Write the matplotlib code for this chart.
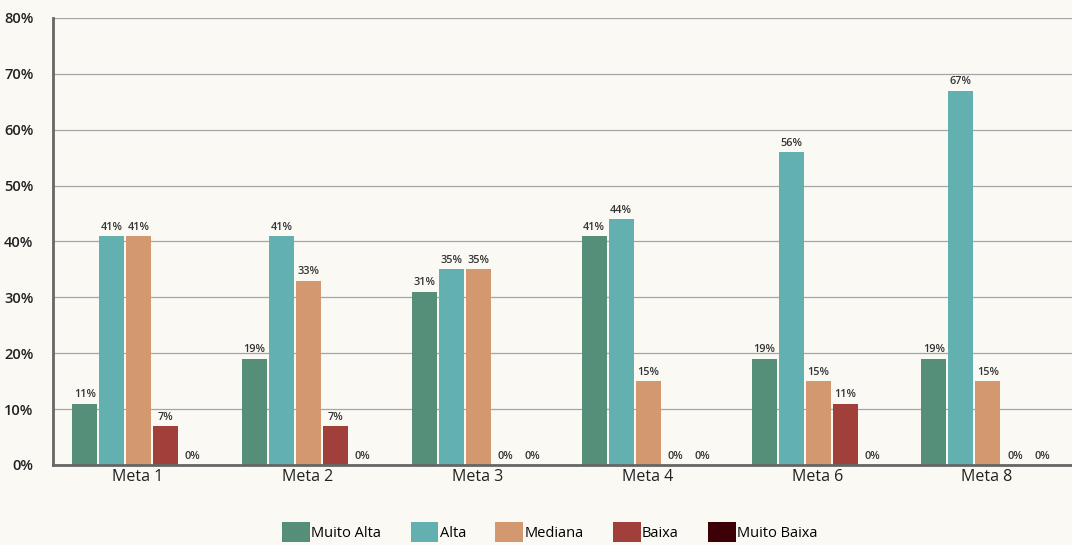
import numpy as np
import matplotlib.pyplot as plt
from matplotlib.ticker import PercentFormatter

metas = ["Meta 1", "Meta 2", "Meta 3", "Meta 4", "Meta 6", "Meta 8"]
series = ["Muito Alta", "Alta", "Mediana", "Baixa", "Muito Baixa"]
muito_alta = [11, 19, 31, 41, 19, 19]
alta = [41, 41, 35, 44, 56, 67]
mediana = [41, 33, 35, 15, 15, 15]
baixa = [7, 7, 0, 0, 11, 0]
muito_baixa = [0, 0, 0, 0, 0, 0]
colors = ["#568F79", "#62B1B0", "#D49870", "#A1403B", "#3D0006"]

plt.rcParams["font.family"] = ["Open Sans", "DejaVu Sans"]
bg = "#FAF9F4"

fig = plt.figure(figsize=(10.72, 5.45), dpi=100, facecolor=bg)
ax = fig.add_axes([0.0494, 0.1468, 0.9506, 0.8202], facecolor=bg)

x = np.arange(len(metas))
step = 0.159
width = 0.147
for k, (name, vals) in enumerate(zip(series, [muito_alta, alta, mediana, baixa, muito_baixa])):
    pos = x + (k - 2) * step + 0.005
    ax.bar(pos, vals, width=width, color=colors[k], label=name, zorder=3)
    for p, v in zip(pos, vals):
        ax.text(p, v + 0.6, f"{v}%", ha="center", va="bottom", fontsize=7.8,
                fontweight="semibold", color="#333333", zorder=4)

ax.set_xlim(-0.5, 5.5)
ax.set_ylim(0, 80)
ax.set_yticks(range(0, 81, 10))
ax.yaxis.set_major_formatter(PercentFormatter(decimals=0))
ax.set_xticks(x)
ax.set_xticklabels(metas, fontsize=11.5, color="#222222", fontweight="medium")
ax.tick_params(axis="y", labelsize=10.5, colors="#222222", length=0, pad=14)
ax.tick_params(axis="x", length=0, pad=3)
for lab in ax.get_yticklabels():
    lab.set_fontweight("semibold")

ax.grid(axis="y", color="#A5A5A5", linewidth=0.9, zorder=0)
for s in ["top", "right"]:
    ax.spines[s].set_visible(False)
ax.spines["left"].set_color("#666666")
ax.spines["left"].set_linewidth(2)
ax.spines["left"].set_zorder(5)
ax.spines["bottom"].set_color("#666666")
ax.spines["bottom"].set_linewidth(2)
ax.spines["bottom"].set_zorder(5)

fig.legend(loc="lower center", bbox_to_anchor=(0.513, -0.018), ncol=5,
           frameon=False, fontsize=10.5, handlelength=1.9, handleheight=1.7,
           handletextpad=0.1, columnspacing=2.0)

fig.savefig("out.png", dpi=100, facecolor=bg)
